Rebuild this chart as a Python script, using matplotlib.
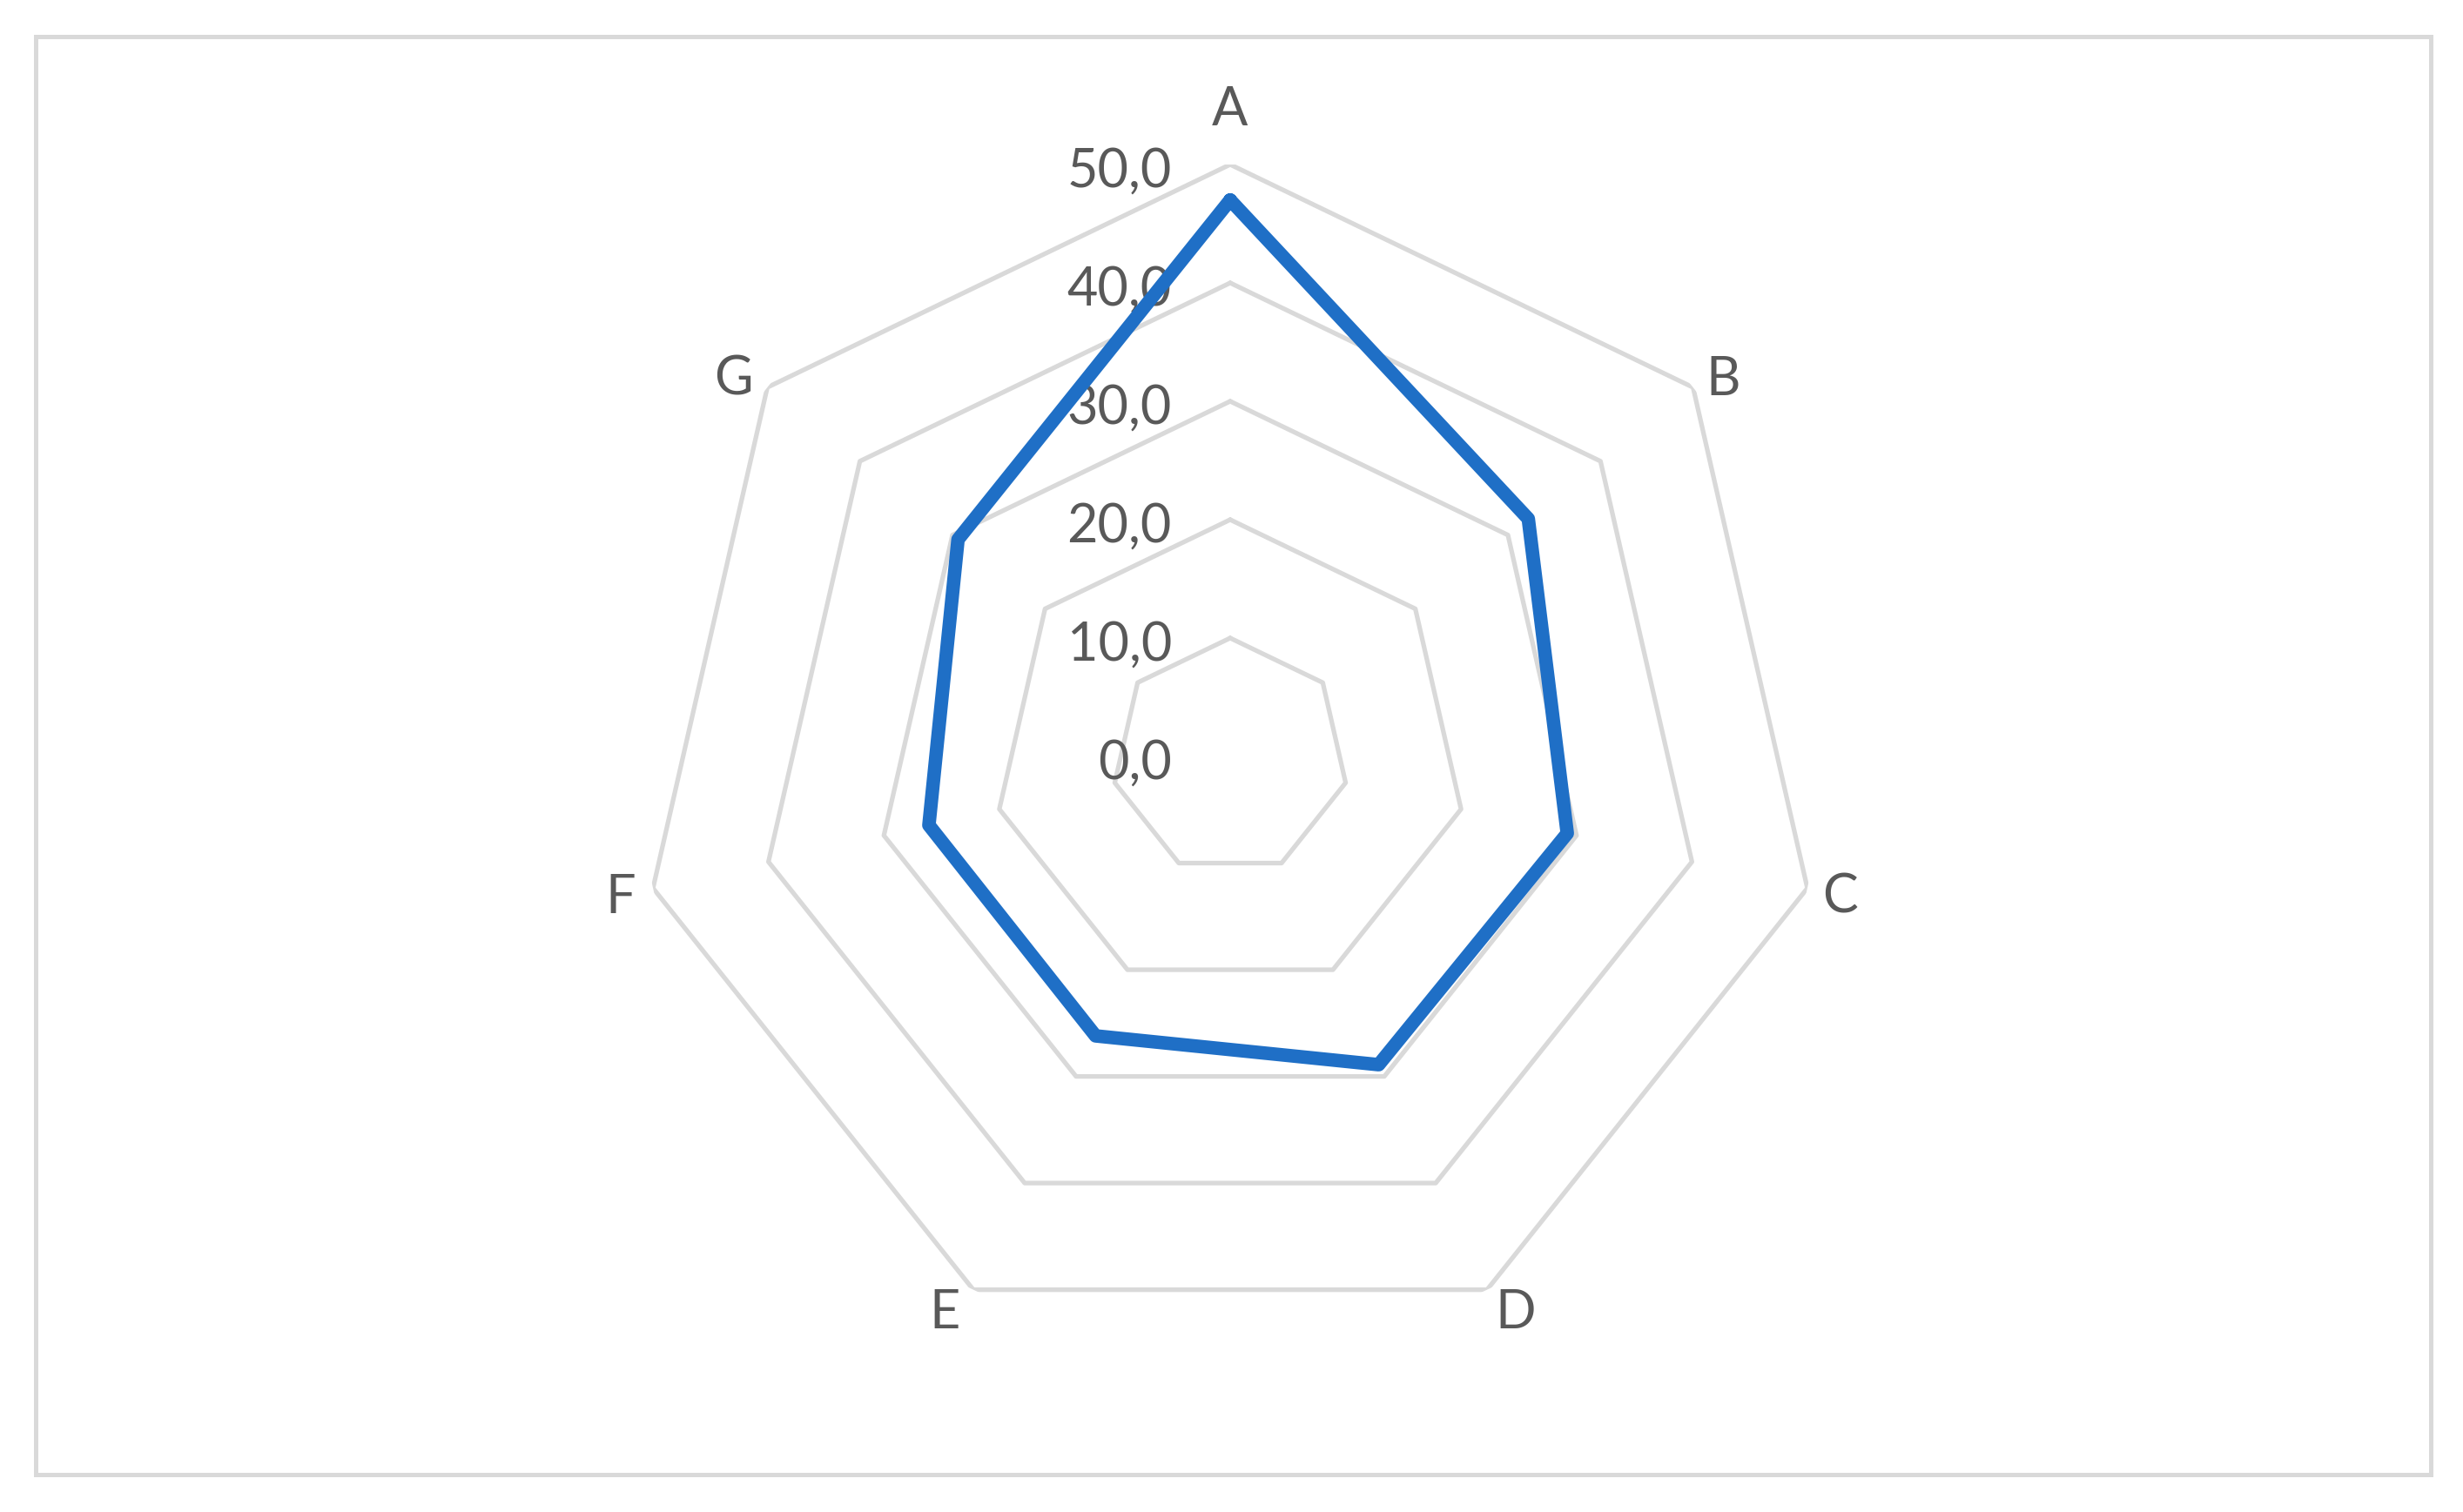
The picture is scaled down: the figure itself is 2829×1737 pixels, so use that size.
import numpy as np
import matplotlib
matplotlib.use("Agg")
import matplotlib.pyplot as plt
from matplotlib.patches import Rectangle
import matplotlib.transforms as mtransforms

categories = ["A", "B", "C", "D", "E", "F", "G"]
values = [47.0, 32.2, 29.2, 28.9, 26.2, 26.1, 29.4]
ring_levels = [10, 20, 30, 40, 50]
tick_values = [0, 10, 20, 30, 40, 50]
tick_labels = ["0,0", "10,0", "20,0", "30,0", "40,0", "50,0"]

W, H, DPI = 2829, 1737, 200
fig = plt.figure(figsize=(W / DPI, H / DPI), dpi=DPI)
fig.patch.set_facecolor("white")

# outer chart border
fig.patches.append(Rectangle((41 / W, 1 - 1694 / H), (2792 - 41) / W, (1694 - 42) / H,
                             transform=fig.transFigure, fill=False,
                             edgecolor="#d9d9d9", linewidth=1.8))

cx, cy, R = 1413, 869, 680
ax = fig.add_axes([(cx - R) / W, (H - cy - R) / H, 2 * R / W, 2 * R / H], projection="polar")
ax.set_theta_zero_location("N")
ax.set_theta_direction(-1)
ax.set_ylim(0, 50)
ax.grid(False)
ax.set_xticks([])
ax.set_yticks([])
ax.spines["polar"].set_visible(False)
ax.patch.set_alpha(0)

n = len(categories)
theta = np.linspace(0, 2 * np.pi, n, endpoint=False)
theta_c = np.append(theta, theta[0])

for lev in ring_levels:
    ax.plot(theta_c, [lev] * (n + 1), color="#d9d9d9", lw=1.9, zorder=1,
            solid_capstyle="round")

vals_c = values + values[:1]
ax.plot(theta_c, vals_c, color="#1f6fc6", lw=5.6, solid_joinstyle="round",
        solid_capstyle="round", zorder=3)

font = ["Lato", "DejaVu Sans"]
txtcol = "#595959"
fs = 22

# category labels: pixel offsets from the outer ring vertex (layout only)
label_offsets = [(0, 62), (34, 9), (38, -11), (33, -27), (-33, -27), (-37, -11), (-39, 9)]
r_max = ring_levels[-1]
for t, lab, (dx, dy) in zip(theta, categories, label_offsets):
    tr = mtransforms.offset_copy(ax.transData, fig=fig, x=dx, y=dy, units="dots")
    ax.text(t, r_max, lab, transform=tr, ha="center", va="center", fontsize=fs,
            color=txtcol, family=font, zorder=4, clip_on=False)

# value axis labels
off = mtransforms.offset_copy(ax.transData, fig=fig, x=-67, y=-8, units="dots")
for v, lab in zip(tick_values, tick_labels):
    ax.text(0, v, lab, transform=off, ha="right", va="center", fontsize=fs,
            color=txtcol, family=font, zorder=2, clip_on=False)

fig.savefig("out.png", dpi=DPI, facecolor="white")
